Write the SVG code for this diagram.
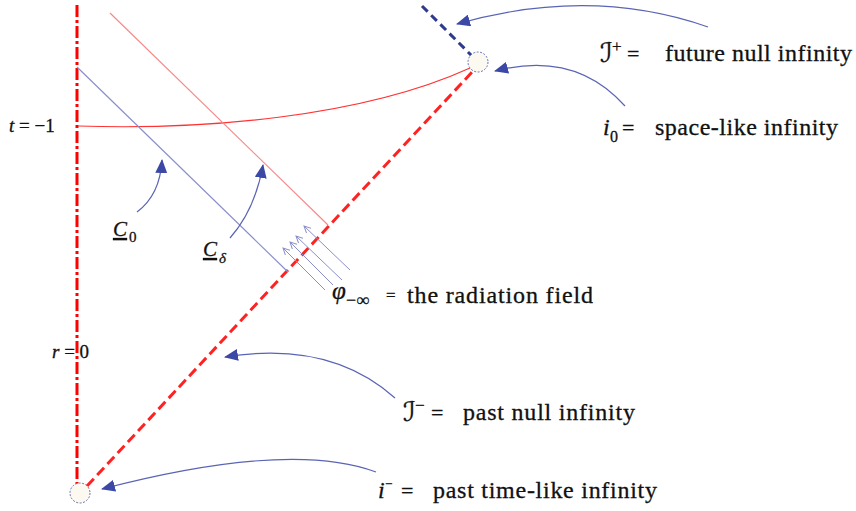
<svg xmlns="http://www.w3.org/2000/svg" width="856" height="511" viewBox="0 0 856 511">
<style>
.serif{font-family:"Liberation Serif","Times New Roman",serif;fill:#111;stroke:#111;stroke-width:0.3;}
.it{font-style:italic;}
.script{font-family:"DejaVu Serif","DejaVu Sans",serif;font-style:italic;fill:#111;stroke:#111;stroke-width:0.3;}
.big{font-size:24px;}
.ann{fill:none;stroke:#5A64B4;stroke-width:1.2;}
.rad{fill:none;stroke:#8A8FCC;stroke-width:1;}
.node{fill:#FCFAF0;stroke:#6A72B0;stroke-width:1;stroke-dasharray:2 1.5;}
</style>
<defs>
<marker id="tri" markerWidth="14" markerHeight="12" refX="13" refY="6" orient="auto" markerUnits="userSpaceOnUse">
<path d="M0,0 L14,6 L0,12 Z" fill="#3B48A6"/>
</marker>
<marker id="open" markerWidth="8" markerHeight="8" refX="7" refY="4" orient="auto" markerUnits="userSpaceOnUse">
<path d="M0,0.5 L7,4 L0,7.5" fill="none" stroke="#8A8FCC" stroke-width="1"/>
</marker>
</defs>
<rect width="856" height="511" fill="#fff"/>

<g id="axes">
<line x1="77" y1="5" x2="77" y2="484" stroke="#F00" stroke-width="3" stroke-dasharray="12 3 3 3"/>
<line x1="87" y1="486" x2="474" y2="70" stroke="#F22" stroke-width="3" stroke-dasharray="10 5"/>
<line x1="422" y1="6" x2="472" y2="56" stroke="#2E3A90" stroke-width="3" stroke-dasharray="8 5"/>
</g>

<g id="surfaces">
<path d="M78,126 C200,130 360,118 470,68" fill="none" stroke="#F33" stroke-width="1.2"/>
<line x1="77" y1="67" x2="288" y2="272" stroke="#8A8FCC" stroke-width="1.2"/>
<line x1="110" y1="13" x2="328" y2="225" stroke="#F58A8A" stroke-width="1.2"/>
</g>

<g id="node-i0"><circle cx="478" cy="62" r="10" class="node"/></g>
<g id="node-iminus"><circle cx="80" cy="493" r="10" class="node"/></g>

<g id="connectors">
<path class="ann" d="M708,27 Q590,-14 457,24" marker-end="url(#tri)"/>
<path class="ann" d="M625,106 Q575,50 495,71" marker-end="url(#tri)"/>
<path class="ann" d="M137,212 Q160,195 162,160" marker-end="url(#tri)"/>
<path class="ann" d="M230,238 Q255,210 263,165" marker-end="url(#tri)"/>
<path class="ann" d="M395,398 Q330,340 225,357" marker-end="url(#tri)"/>
<path class="ann" d="M376,472 Q290,440 102,489" marker-end="url(#tri)"/>
<g id="radiation">
<line class="rad" x1="325" y1="290" x2="283" y2="248" marker-end="url(#open)"/>
<line class="rad" x1="333" y1="285" x2="290" y2="242" marker-end="url(#open)"/>
<line class="rad" x1="342" y1="280" x2="296" y2="236" marker-end="url(#open)"/>
<line class="rad" x1="350" y1="270" x2="304" y2="226" marker-end="url(#open)"/>
</g>
</g>

<g id="label-t">
<text class="serif" x="9" y="132" font-size="19"><tspan class="it">t</tspan> = −1</text>
</g>
<g id="label-r">
<text class="serif" x="52" y="358" font-size="19"><tspan class="it">r</tspan> = 0</text>
</g>
<g id="label-C0">
<text class="serif it" x="113" y="236" font-size="21" text-decoration="underline">C</text>
<text class="serif" x="129" y="242" font-size="15">0</text>
</g>
<g id="label-Cdelta">
<text class="serif it" x="203" y="256" font-size="21" text-decoration="underline">C</text>
<text class="serif it" x="219" y="263" font-size="15">δ</text>
</g>
<g id="label-phi">
<text class="serif it" x="332" y="299" font-size="25">φ</text>
<text class="serif" x="346" y="306" font-size="18">−∞</text>
<text class="serif" x="386" y="301" font-size="17">=</text>
<text class="serif big" x="407" y="303" textLength="186" lengthAdjust="spacing">the radiation field</text>
</g>
<g id="label-Iplus">
<text class="script" x="600" y="62" font-size="27">ℐ</text>
<text class="serif" x="612" y="52" font-size="17">+</text>
<text class="serif" x="627" y="61" font-size="22">=</text>
<text class="serif big" x="665" y="61" textLength="187" lengthAdjust="spacing">future null infinity</text>
</g>
<g id="label-i0">
<text class="serif it" x="603" y="135" font-size="24">i</text>
<text class="serif" x="610" y="142" font-size="16">0</text>
<text class="serif" x="622" y="135" font-size="22">=</text>
<text class="serif big" x="655" y="135" textLength="183" lengthAdjust="spacing">space-like infinity</text>
</g>
<g id="label-Iminus">
<text class="script" x="403" y="421" font-size="27">ℐ</text>
<text class="serif" x="415" y="411" font-size="17">−</text>
<text class="serif" x="431" y="420" font-size="22">=</text>
<text class="serif big" x="463" y="420" textLength="172" lengthAdjust="spacing">past null infinity</text>
</g>
<g id="label-iminus">
<text class="serif it" x="378" y="498" font-size="24">i</text>
<text class="serif" x="385" y="488" font-size="13">−</text>
<text class="serif" x="401" y="498" font-size="22">=</text>
<text class="serif big" x="433" y="498" textLength="224" lengthAdjust="spacing">past time-like infinity</text>
</g>
</svg>
